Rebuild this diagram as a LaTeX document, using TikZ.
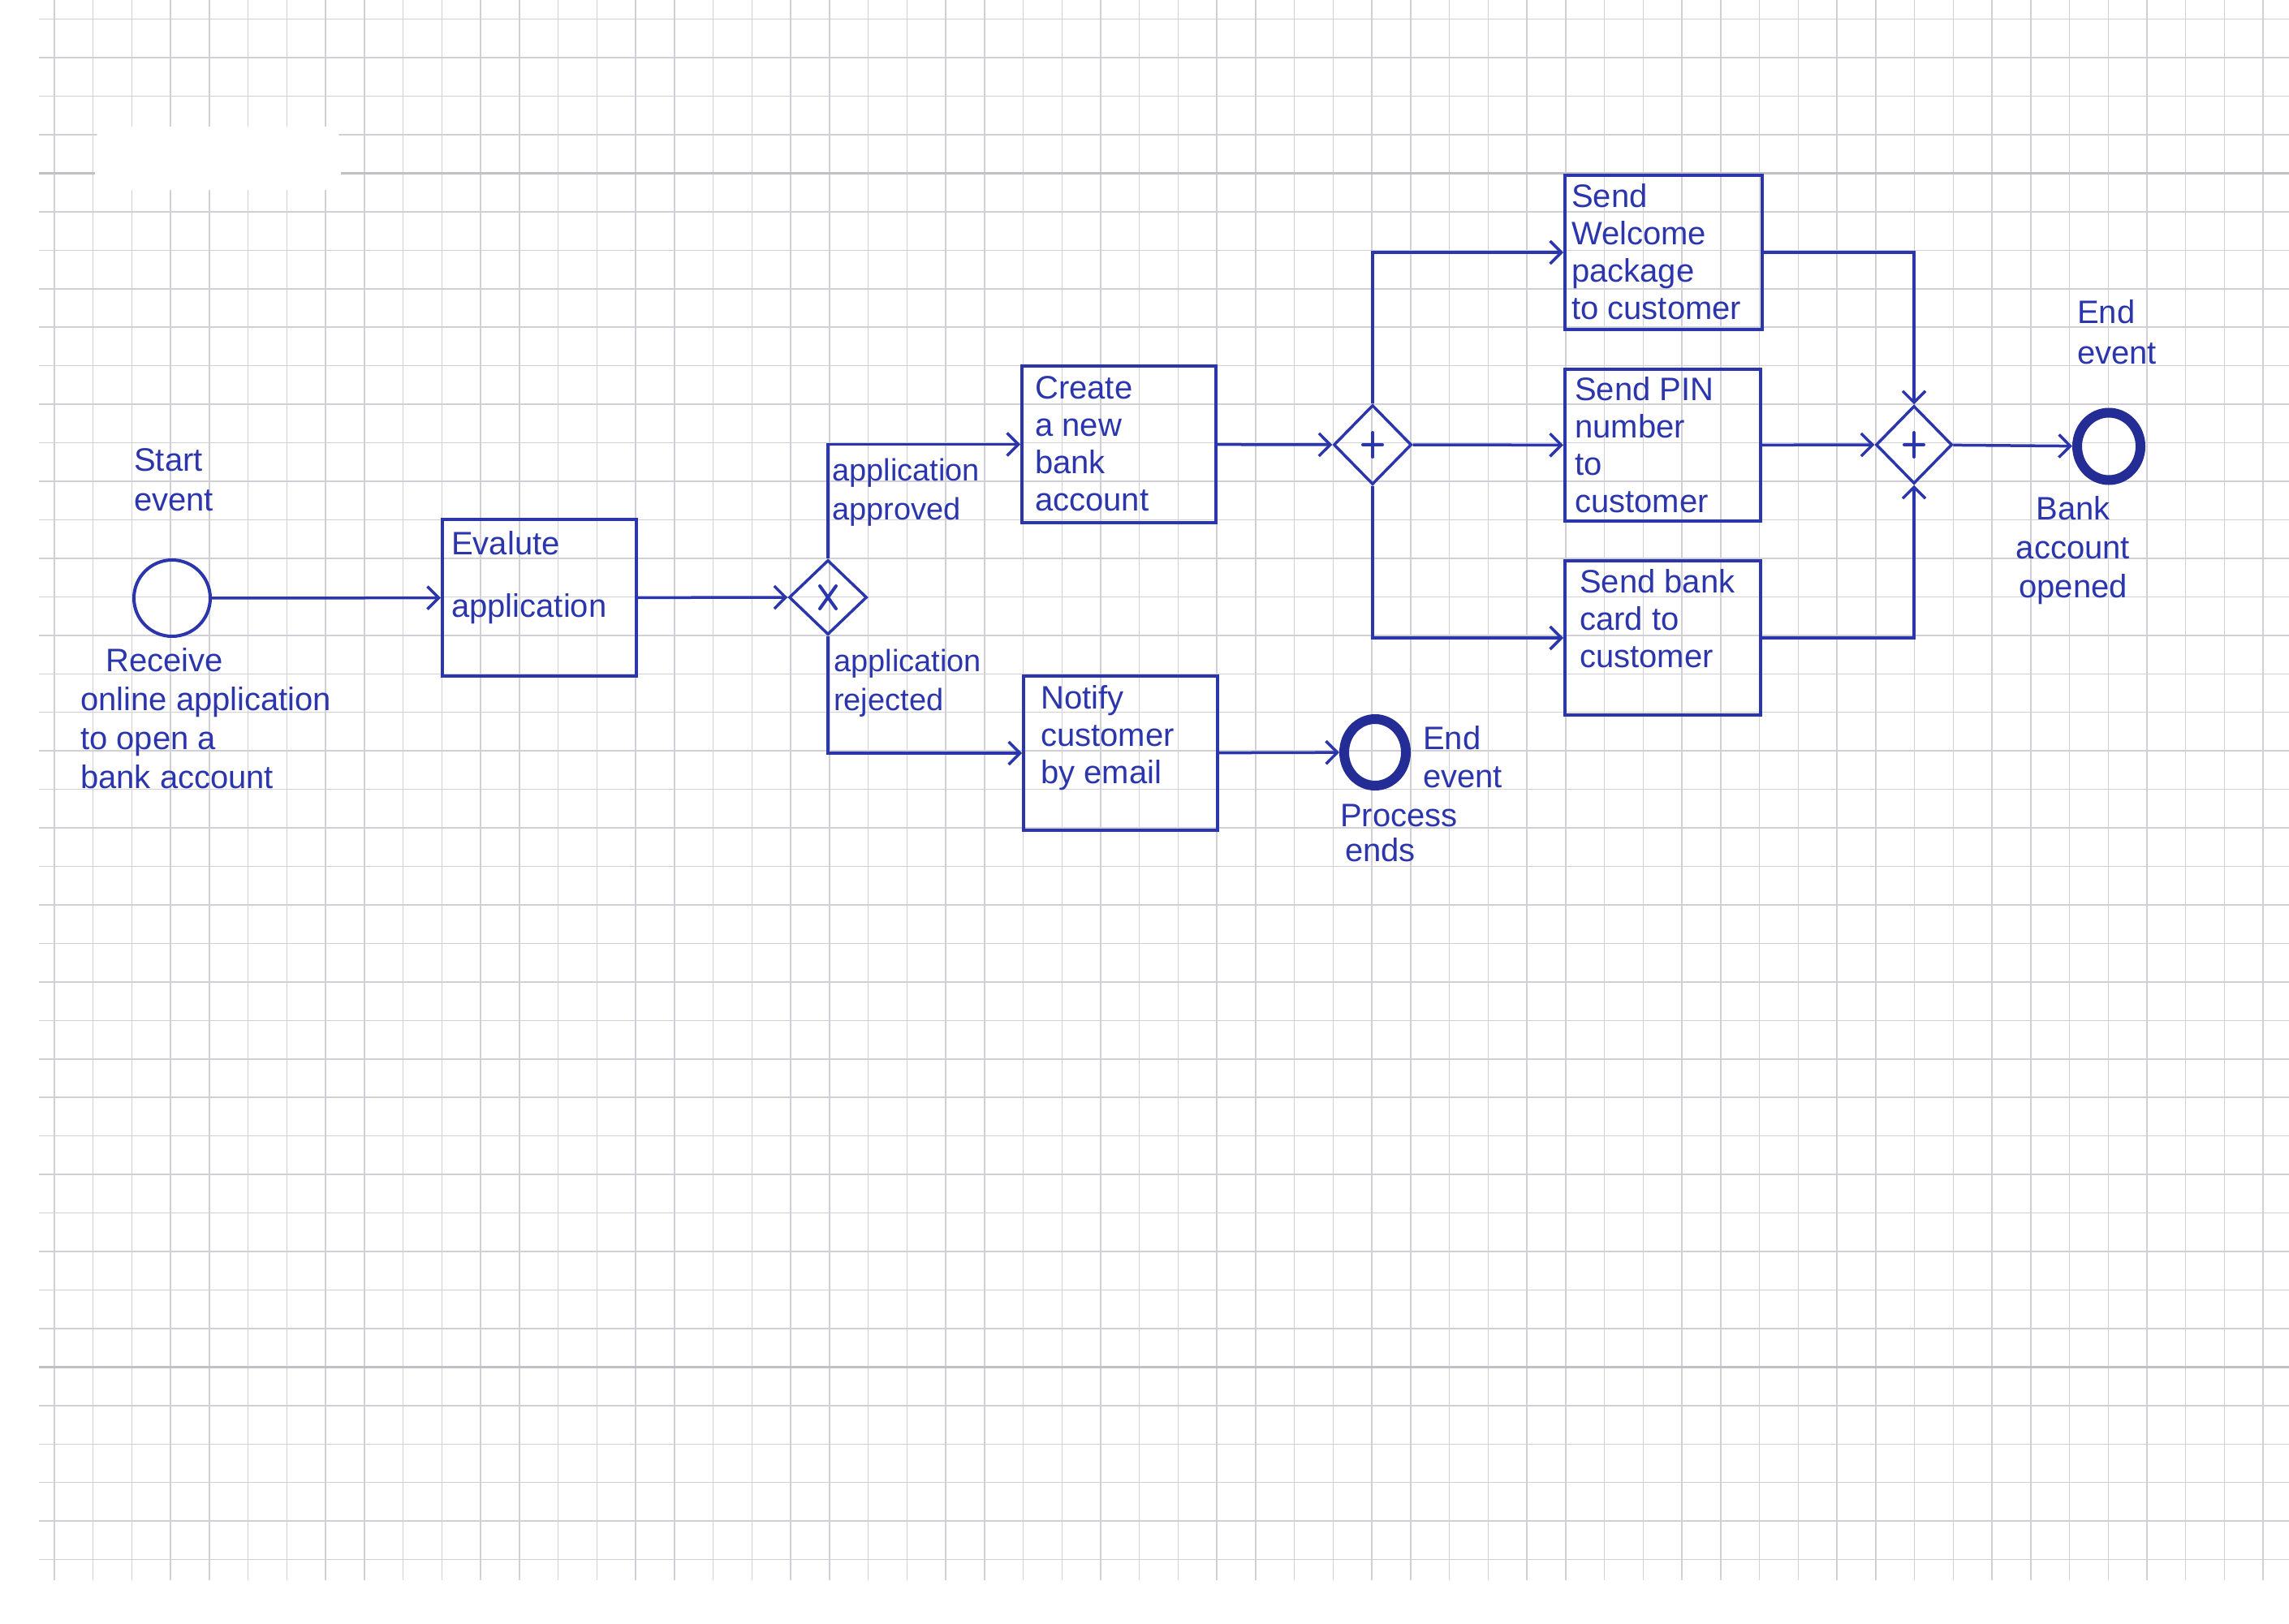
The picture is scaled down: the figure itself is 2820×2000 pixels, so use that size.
\documentclass[tikz,border=0pt]{standalone}
\usepackage{fontspec}
\setmainfont{Liberation Sans}
\usetikzlibrary{arrows.meta,shapes.geometric,calc}
\definecolor{ink}{RGB}{44,54,172}
\definecolor{inkdark}{RGB}{36,44,150}
\definecolor{gridc}{RGB}{208,208,214}
\definecolor{gridthick}{RGB}{192,192,198}

\begin{document}
\begin{tikzpicture}[x=1pt,y=-1pt,
  every node/.style={text=ink, font=\fontsize{40}{46}\selectfont},
  task/.style={rectangle, draw=ink, line width=4pt, inner sep=0pt},
  tasktext/.style={anchor=north west, align=left, inner sep=0pt},
  note/.style={anchor=north west, align=left, inner sep=0pt},
  gate/.style={diamond, draw=ink, line width=3.5pt, inner sep=0pt},
  marker/.style={draw=ink, line width=4pt, line cap=round},
  flow/.style={draw=ink, line width=3.5pt, -{Straight Barb[length=14pt,width=28pt]}},
  startev/.style={circle, draw=ink, line width=4pt, minimum size=94pt, inner sep=0pt},
  endev/.style={ellipse, draw=inkdark, line width=12pt, inner sep=0pt}
]
% page
\useasboundingbox (0,0) rectangle (2820,2000);
\fill[white] (0,0) rectangle (2820,2000);

% squared paper
\foreach \k in {0,...,57}
  \draw[gridc, line width=1.5pt] ({67+\k*47.74},0) -- ({67+\k*47.74},1947);
\foreach \k in {0,...,40}
  \draw[gridc, line width=1.5pt] (48,{23.6+\k*47.45}) -- (2820,{23.6+\k*47.45});
\foreach \k in {4,35}
  \draw[gridthick, line width=3pt] (48,{23.6+\k*47.45}) -- (2820,{23.6+\k*47.45});
% erased corner
\fill[white, rounded corners=20pt] (117,156) rectangle (420,234);

% events
\node[startev] (start) at (212,737) {};
\node[endev, minimum width=76pt, minimum height=82pt] (endrej) at (1694,927) {};
\node[endev, minimum width=78pt, minimum height=83pt] (endok) at (2598,550) {};

% tasks
\node[task, minimum width=239pt, minimum height=193pt] (evaluate) at (664.5,736.5) {};
\node[task, minimum width=239pt, minimum height=193pt] (create) at (1378.5,547.5) {};
\node[task, minimum width=239pt, minimum height=190pt] (notify) at (1380.5,928) {};
\node[task, minimum width=243pt, minimum height=190pt] (welcome) at (2049.5,311) {};
\node[task, minimum width=241pt, minimum height=187pt] (pin) at (2048.5,548.5) {};
\node[task, minimum width=241pt, minimum height=190pt] (card) at (2048.5,786) {};

% task texts
\node[tasktext, font=\fontsize{40}{77}\selectfont] (evaluatet) at ([xshift=13pt,yshift=-16pt]evaluate.north west) {Evalute\\application};
\node[tasktext] (createt) at ([xshift=18pt,yshift=-14pt]create.north west) {Create\\a new\\bank\\account};
\node[tasktext] (notifyt) at ([xshift=23pt,yshift=-13pt]notify.north west) {Notify\\customer\\by email};
\node[tasktext] (welcomet) at ([xshift=10pt,yshift=-12pt]welcome.north west) {Send\\Welcome\\package\\to customer};
\node[tasktext] (pint) at ([xshift=14pt,yshift=-11pt]pin.north west) {Send PIN\\number\\to\\customer};
\node[tasktext] (cardt) at ([xshift=20pt,yshift=-12pt]card.north west) {Send bank\\card to\\customer};

% gateways
\node[gate, minimum width=96pt, minimum height=92pt] (xor) at (1020,736) {};
\node[gate, minimum width=96pt, minimum height=98pt] (split) at (1691,548) {};
\node[gate, minimum width=94pt, minimum height=96pt] (join) at (2358,548) {};

% gateway markers
\draw[marker] ([shift={(-10,-14)}]xor.center) -- ([shift={(10,14)}]xor.center);
\draw[marker] ([shift={(10,-14)}]xor.center) -- ([shift={(-10,14)}]xor.center);
\foreach \g in {split,join}{
  \draw[marker] ([shift={(0,-15)}]\g.center) -- ([shift={(0,15)}]\g.center);
  \draw[marker] ([shift={(-12,0)}]\g.center) -- ([shift={(12,0)}]\g.center);
}

% sequence flows
\draw[flow] (start) -- (evaluate);
\draw[flow] (evaluate) -- (xor);
\draw[flow] (xor.north) |- (create.west);
\draw[flow] (xor.south) |- (notify.west);
\draw[flow] (notify) -- (endrej);
\draw[flow] (create) -- (split);
\draw[flow] (split.north) |- (welcome.west);
\draw[flow] (split) -- (pin);
\draw[flow] (split.south) |- (card.west);
\draw[flow] (welcome.east) -| (join.north);
\draw[flow] (pin) -- (join);
\draw[flow] (card.east) -| (join.south);
\draw[flow] (join) -- (endok);

% labels
\node[note, font=\fontsize{40}{49}\selectfont] (startlbl) at (165,552) {Start\\event};
\node[note, font=\fontsize{40}{48}\selectfont] (recvlbl) at (99,798) {\hspace*{31pt}Receive\\online application\\to open a\\bank account};
\node[note, font=\fontsize{38}{48}\selectfont] (approved) at (1025,565) {application\\approved};
\node[note, font=\fontsize{38}{48}\selectfont] (rejected) at (1027,800) {application\\rejected};
\node[note, font=\fontsize{40}{47}\selectfont] (endrejlbl) at (1753,894) {End\\event};
\node[note, font=\fontsize{40}{43}\selectfont] (proclbl) at (1651,991) {Process\\\hspace*{6pt}ends};
\node[note, font=\fontsize{40}{50}\selectfont] (endoklbl) at (2559,369) {End\\event};
\node[anchor=north, align=center, inner sep=0pt, font=\fontsize{40}{48}\selectfont] (banklbl) at (2554,611) {Bank\\account\\opened};
\end{tikzpicture}
\end{document}
